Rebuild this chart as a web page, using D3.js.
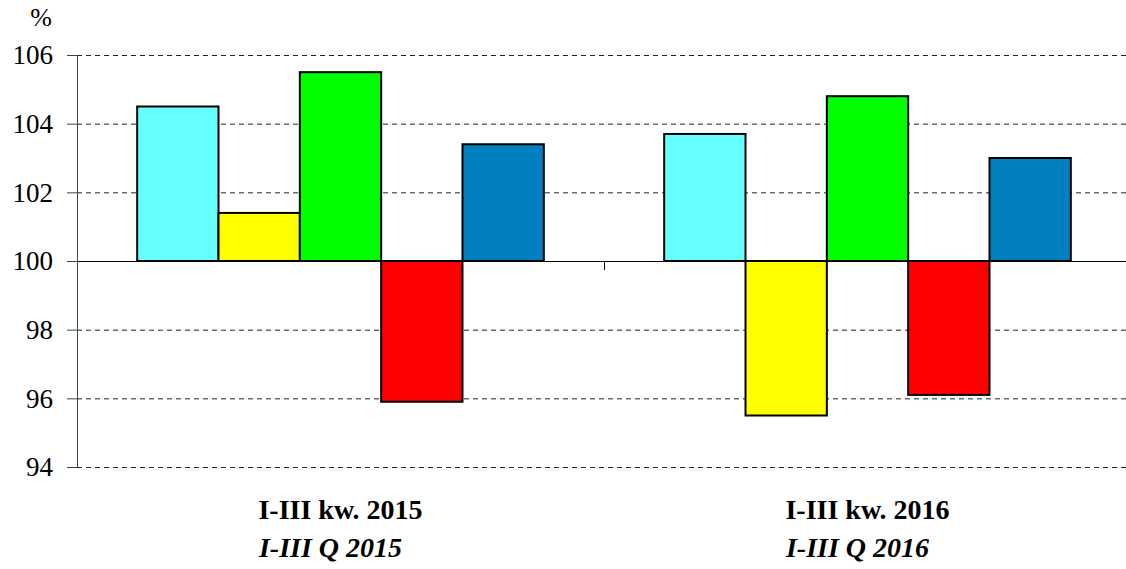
<!DOCTYPE html>
<html>
<head>
<meta charset="utf-8">
<script src="https://cdn.jsdelivr.net/npm/d3@7"></script>
<style>
  body { margin: 0; background: #fff; }
</style>
</head>
<body>
<svg width="1126" height="569"></svg>
<script>
// dane
var categories = ["I-III kw. 2015", "I-III kw. 2016"];
var categoriesEn = ["I-III Q 2015", "I-III Q 2016"];
var seriesIds = ["s1", "s2", "s3", "s4", "s5"];
var values2015 = [104.5, 101.4, 105.5, 95.9, 103.4];
var values2016 = [103.7, 95.5, 104.8, 96.1, 103.0];
var seriesColors = ["#66ffff", "#ffff00", "#00ff00", "#ff0000", "#0080c0"];
var yTicks = [94, 96, 98, 100, 102, 104, 106];
var yUnit = "%";

var valuesByCat = [values2015, values2016];
var serif = "'Liberation Serif'";

var svg = d3.select("svg").attr("font-family", "Liberation Serif"),
    margin = {top: 55, right: -5, bottom: 102, left: 77},
    width = +svg.attr("width") - margin.left - margin.right,
    height = +svg.attr("height") - margin.top - margin.bottom;

var x0 = d3.scaleBand().domain(categories).range([0, width]).padding(0);
var x1 = d3.scaleBand().domain(seriesIds).range([0, x0.bandwidth()])
    .paddingInner(0).paddingOuter(0.74);
var y = d3.scaleLinear().domain([94, 106]).range([height, 0]);

var g = svg.append("g")
    .attr("transform", "translate(" + margin.left + "," + margin.top + ")");

// linie siatki
g.append("g")
  .selectAll("line")
  .data(yTicks.filter(function(d) { return d !== 100; }))
  .enter().append("line")
    .attr("x1", 0)
    .attr("x2", width - 4)
    .attr("y1", function(d) { return y(d) + 0.5; })
    .attr("y2", function(d) { return y(d) + 0.5; })
    .attr("stroke", "#222")
    .attr("stroke-width", 1)
    .attr("stroke-dasharray", "5,4");

// os y
var yAxis = g.append("g")
    .call(d3.axisLeft(y).tickValues(yTicks).tickSize(10).tickPadding(14))
    .attr("font-family", "Liberation Serif")
    .attr("font-size", 27);
yAxis.select(".domain").attr("stroke", "#444").attr("d", "M0.5," + y(106) + "V" + y(94));
yAxis.selectAll(".tick line").attr("stroke", "#444");
yAxis.selectAll(".tick text")
    .attr("fill", "#000")
    .style("font-family", serif)
    .style("font-size", "27px")
    .attr("dy", "0.33em");

g.append("text")
    .attr("x", -36)
    .attr("y", -29)
    .attr("text-anchor", "middle")
    .style("font-family", serif)
    .style("font-size", "26px")
    .text(yUnit);

// slupki
var groups = g.selectAll(".cat")
  .data(categories)
  .enter().append("g")
    .attr("class", "cat")
    .attr("transform", function(d) { return "translate(" + x0(d) + ",0)"; });

groups.selectAll("rect")
  .data(function(d, i) {
    return valuesByCat[i].map(function(v, j) { return {id: seriesIds[j], value: v, color: seriesColors[j]}; });
  })
  .enter().append("rect")
    .attr("x", function(d) { return x1(d.id); })
    .attr("y", function(d) { return y(Math.max(d.value, 100)); })
    .attr("width", x1.bandwidth())
    .attr("height", function(d) { return Math.abs(y(d.value) - y(100)); })
    .attr("fill", function(d) { return d.color; })
    .attr("stroke", "#000")
    .attr("stroke-width", 2);

// os x na 100
var xAxis = g.append("g")
    .attr("transform", "translate(0," + y(100) + ")");
xAxis.append("line")
    .attr("x1", 0).attr("x2", width - 4)
    .attr("y1", 0.5).attr("y2", 0.5)
    .attr("stroke", "#000");
xAxis.selectAll(".sep")
  .data(categories.slice(1))
  .enter().append("line")
    .attr("x1", function(d) { return x0(d) + 0.5; })
    .attr("x2", function(d) { return x0(d) + 0.5; })
    .attr("y1", 0).attr("y2", 9)
    .attr("stroke", "#000");

// podpisy kategorii
groups.append("text")
    .attr("x", x0.bandwidth() / 2)
    .attr("y", height + 52)
    .attr("text-anchor", "middle")
    .style("font-family", serif)
    .style("font-size", "28px")
    .style("font-weight", "bold")
    .text(function(d) { return d; });

groups.append("text")
    .attr("x", x0.bandwidth() / 2 - 10)
    .attr("y", height + 90)
    .attr("text-anchor", "middle")
    .style("font-family", serif)
    .style("font-size", "28px")
    .style("font-weight", "bold")
    .style("font-style", "italic")
    .text(function(d, i) { return categoriesEn[i]; });
</script>
</body>
</html>
